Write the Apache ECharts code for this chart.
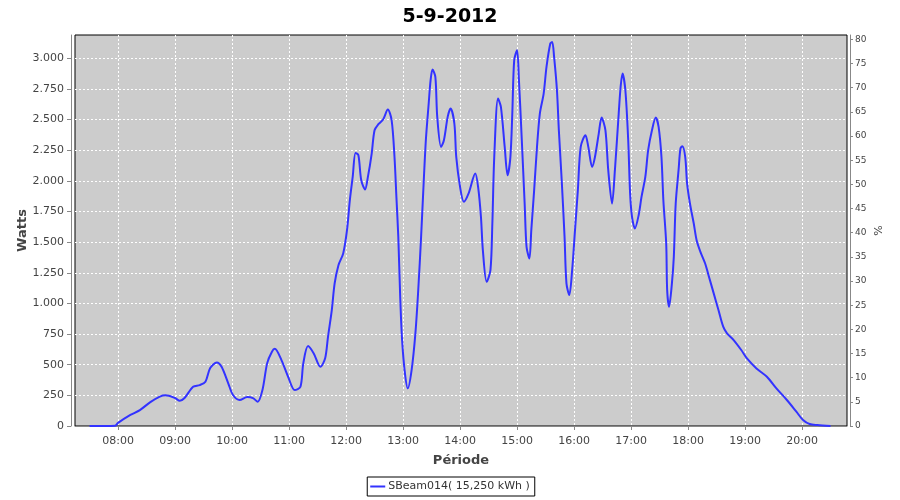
<!DOCTYPE html>
<html>
<head>
<meta charset="utf-8">
<script src="https://cdn.jsdelivr.net/npm/echarts@6/dist/echarts.min.js"></script>
<style>html,body{margin:0;padding:0;background:#fff}#c{width:900px;height:500px}</style>
</head>
<body>
<div id="c"></div>
<script>
const titleText = '5-9-2012';
const seriesName = 'SBeam014( 15,250 kWh )';
const times = ['07:30','07:57','08:00','08:13','08:23','08:34','08:44','08:50','09:00','09:05','09:10','09:19','09:26','09:32','09:37','09:44','09:49','09:56','10:01','10:08','10:16','10:22','10:27','10:32','10:37','10:42','10:45','10:52','10:59','11:06','11:12','11:15','11:20','11:26','11:33','11:38','11:41','11:45','11:48','11:52','11:57','12:01','12:04','12:07','12:10','12:13','12:16','12:20','12:23','12:27','12:30','12:34','12:39','12:44','12:48','12:51','12:53','12:55','12:57','12:59','13:02','13:05','13:09','13:13','13:16','13:19','13:21','13:24','13:27','13:29','13:31','13:34','13:36','13:40','13:43','13:47','13:50','13:54','13:56','14:00','14:04','14:09','14:16','14:19','14:22','14:24','14:28','14:32','14:34','14:36','14:40','14:43','14:47','14:50','14:53','14:55','14:57','15:00','15:02','15:05','15:08','15:10','15:13','15:15','15:18','15:21','15:24','15:28','15:31','15:35','15:37','15:39','15:42','15:44','15:47','15:50','15:52','15:55','15:58','16:01','16:04','16:07','16:12','16:15','16:19','16:22','16:26','16:29','16:33','16:36','16:40','16:43','16:47','16:49','16:51','16:54','16:57','16:59','17:01','17:04','17:08','17:11','17:15','17:18','17:22','17:26','17:29','17:32','17:34','17:37','17:38','17:40','17:43','17:45','17:47','17:50','17:52','17:54','17:57','17:59','18:02','18:06','18:09','18:13','18:18','18:21','18:27','18:32','18:37','18:41','18:48','18:56','19:02','19:12','19:23','19:33','19:44','19:54','20:01','20:08','20:16','20:30'];
const watts = [0,3,25,90,130,195,240,250,228,206,228,320,334,361,473,519,483,348,253,212,236,228,198,293,513,606,630,538,402,293,320,511,652,592,483,552,728,946,1163,1312,1408,1598,1842,2032,2228,2209,2005,1930,2032,2223,2413,2462,2500,2582,2494,2195,1869,1543,1054,701,430,307,456,756,1109,1543,1869,2331,2631,2821,2908,2848,2522,2277,2331,2522,2590,2468,2195,1951,1829,1897,2060,1951,1706,1435,1176,1272,1652,2195,2671,2603,2277,2046,2195,2549,2984,3065,2821,2331,1815,1462,1367,1598,1924,2277,2549,2712,2929,3120,3133,3011,2739,2413,2005,1543,1163,1068,1272,1598,1924,2277,2372,2277,2114,2195,2386,2516,2413,2087,1815,2087,2549,2766,2875,2739,2331,1897,1706,1612,1720,1869,2032,2250,2413,2516,2440,2195,1842,1489,1109,972,1163,1380,1815,2087,2264,2283,2195,1978,1815,1652,1516,1421,1326,1245,1082,946,810,756,701,620,552,470,402,307,212,117,49,16,8,0];
const hourTicks = ['08:00','09:00','10:00','11:00','12:00','13:00','14:00','15:00','16:00','17:00','18:00','19:00','20:00'];
const wattTicks = [0,250,500,750,1000,1250,1500,1750,2000,2250,2500,2750,3000];
const pctTicks = [0,5,10,15,20,25,30,35,40,45,50,55,60,65,70,75,80];

const toMin = s => { const p = s.split(':'); return (+p[0]) * 60 + (+p[1]); };
const fmtMin = v => { const h = Math.floor(v / 60), m = Math.round(v - h * 60); return String(h).padStart(2, '0') + ':' + String(m).padStart(2, '0'); };
const fmtW = v => v >= 1000 ? Math.floor(v / 1000) + '.' + String(v % 1000).padStart(3, '0') : String(v);
const data = times.map((t, i) => [toMin(t), watts[i]]);
const hourVals = hourTicks.map(toMin);

const FONT = 'DejaVu Sans';
const axisGray = '#888888';
const labelColor = '#444444';

const chart = echarts.init(document.getElementById('c'), null, {renderer: 'canvas'});
chart.setOption({
  animation: false,
  backgroundColor: '#ffffff',
  title: {
    text: titleText, left: 'center', top: 3,
    textStyle: {fontFamily: FONT, fontSize: 19, fontWeight: 'bold', color: '#000'}
  },
  legend: {
    data: [seriesName], left: 'center', top: 477,
    borderColor: '#000', borderWidth: 1, padding: [4, 5, 4, 3],
    icon: 'rect', itemWidth: 15, itemHeight: 2, itemGap: 4,
    textStyle: {fontFamily: FONT, fontSize: 11, color: '#333', padding: [0, 0, 0, -2]}
  },
  grid: {
    left: 75, right: 53, top: 35, bottom: 74, show: true,
    backgroundColor: '#cccccc', borderColor: '#000', borderWidth: 1, containLabel: false
  },
  xAxis: {
    type: 'value', min: 434.7, max: 1247.3, offset: 4,
    name: 'Période', nameLocation: 'middle', nameGap: 24,
    nameTextStyle: {fontFamily: FONT, fontSize: 13, fontWeight: 'bold', color: labelColor},
    axisLine: {show: true, lineStyle: {color: axisGray, width: 1}},
    axisTick: {show: true, inside: false, length: 4, customValues: hourVals, lineStyle: {color: axisGray}},
    axisLabel: {customValues: hourVals, formatter: v => fmtMin(v), fontFamily: FONT, fontSize: 11, color: labelColor, margin: 6},
    splitLine: {show: true, lineStyle: {color: '#ffffff', type: [2, 2], width: 1}}
  },
  yAxis: [{
    type: 'value', min: 0, max: 3190, position: 'left', offset: 4,
    name: 'Watts', nameLocation: 'middle', nameGap: 42, nameMoveOverlap: false,
    nameTextStyle: {fontFamily: FONT, fontSize: 13, fontWeight: 'bold', color: labelColor},
    axisLine: {show: true, lineStyle: {color: axisGray, width: 1}},
    axisTick: {show: true, inside: false, length: 4, customValues: wattTicks, lineStyle: {color: axisGray}},
    axisLabel: {customValues: wattTicks, formatter: v => fmtW(v), fontFamily: FONT, fontSize: 11, color: labelColor, margin: 7},
    splitLine: {show: true, lineStyle: {color: '#ffffff', type: [2, 2], width: 1}}
  }, {
    type: 'value', min: 0, max: 80.9, position: 'right', offset: 3,
    name: '%', nameLocation: 'middle', nameGap: 24, nameMoveOverlap: false,
    nameTextStyle: {fontFamily: FONT, fontSize: 11, color: labelColor},
    axisLine: {show: true, lineStyle: {color: axisGray, width: 1}},
    axisTick: {show: true, inside: false, length: 3, customValues: pctTicks, lineStyle: {color: axisGray}},
    axisLabel: {customValues: pctTicks, fontFamily: FONT, fontSize: 9, color: labelColor, margin: 5},
    splitLine: {show: false}
  }],
  series: [{
    name: seriesName, type: 'line', yAxisIndex: 0, data: data,
    showSymbol: false, smooth: 0.3, clip: true,
    lineStyle: {color: '#3333ff', width: 2},
    itemStyle: {color: '#3333ff'}
  }]
});
</script>
</body>
</html>
